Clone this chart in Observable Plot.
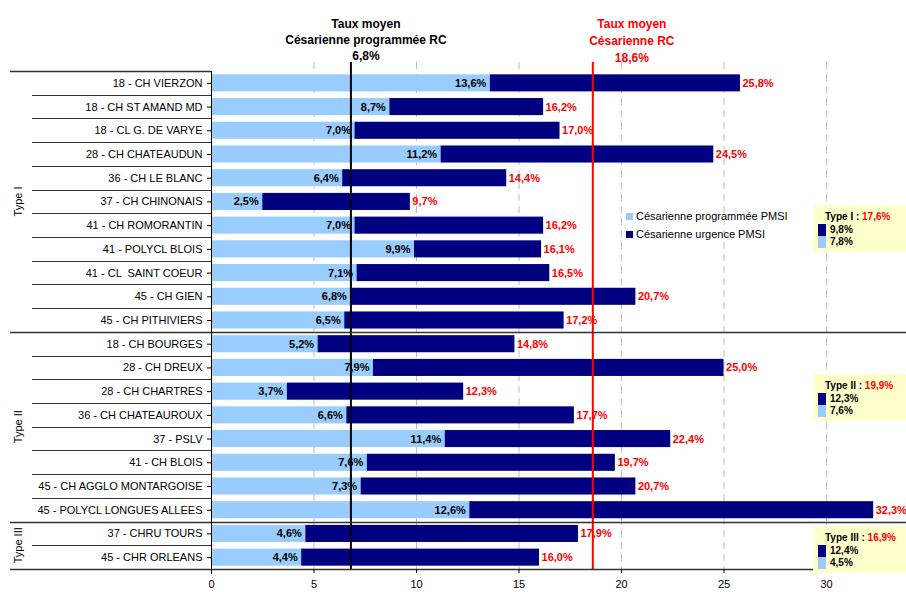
<!DOCTYPE html>
<html>
<head>
<meta charset="utf-8">
<script src="https://cdn.jsdelivr.net/npm/d3@7"></script>
<script src="https://cdn.jsdelivr.net/npm/@observablehq/plot@0.6"></script>
<style>
  html, body { margin: 0; padding: 0; background: #fff; }
  #wrap { position: relative; width: 906px; height: 592px; font-family: "Liberation Sans", Arial, sans-serif; overflow: hidden; }
  #wrap svg { position: absolute; left: 0; top: 0; }
  .legend { position: absolute; left: 626px; top: 207px; font-size: 11px; color: #000; line-height: 18px; }
  .legend .sw { display: inline-block; width: 7px; height: 7px; margin-right: 3px; vertical-align: 0px; }
  .tbox { position: absolute; left: 813px; width: 93px; background: #FFFFCC; font-size: 10px; font-weight: bold; color: #000; box-sizing: border-box; padding: 5px 0 4px 5px; }
  .tbox .ttl { padding-left: 7px; line-height: 13px; margin-bottom: 1px; }
  .tbox .row { line-height: 12px; height: 12px; }
  .tbox .sq { display: inline-block; width: 8px; height: 12px; vertical-align: top; margin-right: 4px; }
</style>
</head>
<body>
<div id="wrap"></div>
<script>
// ---- data ----
const names = [
  "18 - CH VIERZON", "18 - CH ST AMAND MD", "18 - CL G. DE VARYE", "28 - CH CHATEAUDUN",
  "36 - CH LE BLANC", "37 - CH CHINONAIS", "41 - CH ROMORANTIN", "41 - POLYCL BLOIS",
  "41 - CL  SAINT COEUR", "45 - CH GIEN", "45 - CH PITHIVIERS",
  "18 - CH BOURGES", "28 - CH DREUX", "28 - CH CHARTRES", "36 - CH CHATEAUROUX",
  "37 - PSLV", "41 - CH BLOIS", "45 - CH AGGLO MONTARGOISE", "45 - POLYCL LONGUES ALLEES",
  "37 - CHRU TOURS", "45 - CHR ORLEANS"
];
const types = [
  "Type I","Type I","Type I","Type I","Type I","Type I","Type I","Type I","Type I","Type I","Type I",
  "Type II","Type II","Type II","Type II","Type II","Type II","Type II","Type II",
  "Type III","Type III"
];
const progValues = [13.6, 8.7, 7.0, 11.2, 6.4, 2.5, 7.0, 9.9, 7.1, 6.8, 6.5,
                    5.2, 7.9, 3.7, 6.6, 11.4, 7.6, 7.3, 12.6,
                    4.6, 4.4];
const totalValues = [25.8, 16.2, 17.0, 24.5, 14.4, 9.7, 16.2, 16.1, 16.5, 20.7, 17.2,
                     14.8, 25.0, 12.3, 17.7, 22.4, 19.7, 20.7, 32.3,
                     17.9, 16.0];
const xTicks = [0, 5, 10, 15, 20, 25, 30];
const avgProg = 6.8;
const avgTotal = 18.6;
const groupNames = ["Type I", "Type II", "Type III"];
const groupTotal = [17.6, 19.9, 16.9];
const groupUrg = [9.8, 12.3, 12.4];
const groupProg = [7.8, 7.6, 4.5];
const legendLabels = ["Césarienne programmée PMSI", "Césarienne urgence PMSI"];

// ---- build ----
const rows = names.map((n, i) => ({name: n, type: types[i], prog: progValues[i], total: totalValues[i]}));
const fmt = v => v.toFixed(1).replace(".", ",") + "%";
const LIGHT = "#99CCFF", NAVY = "#000080", RED = "#FF0000";
const narrow = "'Liberation Sans Narrow', 'Arial Narrow', 'Liberation Sans', Arial, sans-serif";
const PAD = 0.28;

const decor = (index, scales, values, dims) => {
  const y = scales.y;
  const step = y(names[1]) - y(names[0]);
  const y0 = y(names[0]) - step * PAD / 2;
  const b = i => y0 + i * step;
  const g = d3.create("svg:g");
  const xl = dims.marginLeft;
  for (let i = 0; i <= names.length; i++) {
    const isGroup = i === 0 || i === names.length || types[i] !== types[i - 1];
    const yy = Math.round(b(i)) + 0.5;
    if (isGroup) {
      const x2 = (i === 0) ? xl : dims.width;
      g.append("line").attr("x1", 10).attr("x2", x2).attr("y1", yy).attr("y2", yy)
        .attr("stroke", "#333").attr("stroke-width", 1.3);
    } else {
      g.append("line").attr("x1", 32).attr("x2", xl).attr("y1", yy).attr("y2", yy)
        .attr("stroke", "#333").attr("stroke-width", 1);
    }
  }
  groupNames.forEach(gn => {
    const idx = types.map((t, i) => t === gn ? i : -1).filter(i => i >= 0);
    const cy = (b(idx[0]) + b(idx[idx.length - 1] + 1)) / 2;
    g.append("text").attr("transform", `translate(22,${cy}) rotate(-90)`)
      .attr("text-anchor", "middle").attr("font-size", 11)
      .attr("font-family", "'Liberation Sans', Arial, sans-serif").text(gn);
  });
  g.append("line").attr("x1", xl + 0.5).attr("x2", xl + 0.5).attr("y1", b(0)).attr("y2", b(names.length) + 5)
    .attr("stroke", "#000");
  return g.node();
};

const plot = Plot.plot({
  width: 906,
  height: 592,
  marginLeft: 211,
  marginRight: 0,
  marginTop: 62,
  marginBottom: 23,
  style: {fontFamily: "'Liberation Sans', Arial, sans-serif", fontSize: "11px", color: "#000", background: "transparent"},
  x: {domain: [0, 33.9], ticks: xTicks, tickFormat: d => d},
  y: {domain: names, range: [71, 569], paddingInner: PAD, paddingOuter: PAD / 2, round: false},
  marks: [
    Plot.ruleX(xTicks.filter(t => t > 0), {stroke: "#bdbdbd", strokeDasharray: "7,5"}),
    Plot.barX(rows, {y: "name", x1: 0, x2: "prog", fill: LIGHT}),
    Plot.barX(rows, {y: "name", x1: "prog", x2: "total", fill: NAVY}),
    Plot.text(rows, {y: "name", x: "prog", text: d => fmt(d.prog), textAnchor: "end", dx: -4,
      fontWeight: "bold", fontSize: 11, fill: "#000"}),
    Plot.text(rows, {y: "name", x: "total", text: d => fmt(d.total), textAnchor: "start", dx: 2,
      fontWeight: "bold", fontSize: 11, fill: RED}),
    Plot.ruleX([avgProg], {stroke: "#000", strokeWidth: 2}),
    Plot.ruleX([avgTotal], {stroke: RED, strokeWidth: 2}),
    Plot.text([avgProg], {x: d => d, frameAnchor: "top", dx: 15, dy: -3, lineAnchor: "bottom", lineHeight: 1.3,
      text: d => "Taux moyen\nCésarienne programmée RC\n" + fmt(d), fontWeight: "bold", fontSize: 12,
      fontFamily: narrow, fill: "#000"}),
    Plot.text([avgTotal], {x: d => d, frameAnchor: "top", dx: 39, dy: -1, lineAnchor: "bottom", lineHeight: 1.4,
      text: d => "Taux moyen\nCésarienne RC\n" + fmt(d), fontWeight: "bold", fontSize: 12,
      fontFamily: narrow, fill: RED}),
    decor,
    Plot.axisY({tickSize: 4, tickPadding: 5, label: null, fontSize: 11}),
    Plot.axisX({ticks: xTicks, tickSize: 4, tickPadding: 7, label: null, fontSize: 11, tickFormat: d => d})
  ]
});
const wrap = document.getElementById("wrap");
wrap.appendChild(plot);

const leg = document.createElement("div");
leg.className = "legend";
leg.innerHTML = legendLabels.map((l, i) =>
  `<div><span class="sw" style="background:${i === 0 ? LIGHT : NAVY}"></span>${l}</div>`).join("");
wrap.appendChild(leg);

const boxTops = [205, 374, 526];
groupNames.forEach((gn, i) => {
  const box = document.createElement("div");
  box.className = "tbox";
  box.style.top = boxTops[i] + "px";
  box.innerHTML = `<div class="ttl">${gn} : <span style="color:${RED}">${fmt(groupTotal[i])}</span></div>
    <div class="row"><span class="sq" style="background:${NAVY}"></span>${fmt(groupUrg[i])}</div>
    <div class="row"><span class="sq" style="background:${LIGHT}"></span>${fmt(groupProg[i])}</div>`;
  wrap.appendChild(box);
});
</script>
</body>
</html>
